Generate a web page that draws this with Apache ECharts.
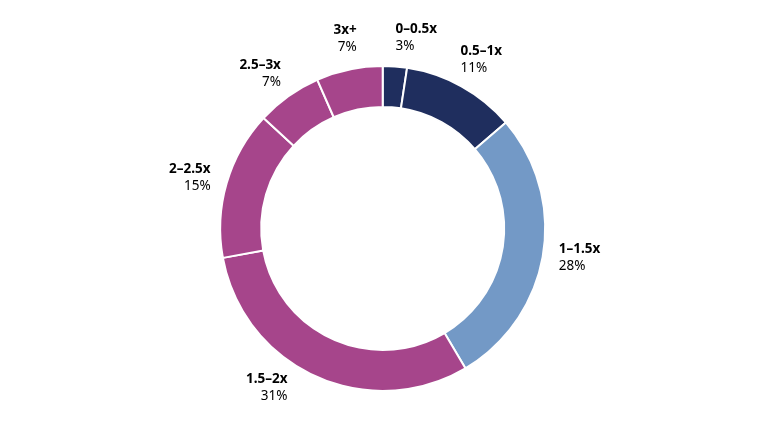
<!DOCTYPE html>
<html>
<head>
<meta charset="utf-8">
<script src="https://cdn.jsdelivr.net/npm/echarts@6/dist/echarts.min.js"></script>
<style>
html,body{margin:0;padding:0;background:#fff;}
#chart{width:781px;height:441px;}
</style>
</head>
<body>
<div id="chart"></div>
<script>
// Data
const categories = ['0–0.5x', '0.5–1x', '1–1.5x', '1.5–2x', '2–2.5x', '2.5–3x', '3x+'];
const values = [2.4, 11.3, 27.8, 30.6, 14.8, 6.5, 6.6];
const pctLabels = ['3%', '11%', '28%', '31%', '15%', '7%', '7%'];
const colors = ['#1f2e5e', '#1f2e5e', '#7399c6', '#a6458b', '#a6458b', '#a6458b', '#a6458b'];

// label placement tweaks (degrees) — layout, not data
const labelAngleShift = [5.7, 1.3, -0.9, 11.6, -1.4, -2.9, 0.7];

const chart = echarts.init(document.getElementById('chart'), null, {renderer: 'canvas'});
const total = values.reduce((a, b) => a + b, 0);
const midAngles = [];
let cum = 0;
values.forEach((v, i) => { midAngles.push((cum + v / 2) / total * 360 + labelAngleShift[i]); cum += v; });

const CX = 0.49, CY = 0.518, OUTER = 162.5, INNER = 121.5, LABEL_R = 178;
const font = '"Noto Sans", "Open Sans", sans-serif';
const FS = 13.5, LH = 16.5;

function sideRight(i) { return Math.sin(midAngles[i] * Math.PI / 180) >= 0; }

const option = {
  backgroundColor: '#ffffff',
  animation: false,
  series: [{
    type: 'pie',
    center: [(CX * 100) + '%', (CY * 100) + '%'],
    radius: [INNER, OUTER],
    startAngle: 90,
    clockwise: true,
    avoidLabelOverlap: false,
    itemStyle: { borderColor: '#ffffff', borderWidth: 2 },
    label: {
      show: true,
      position: 'outside',
      fontFamily: font,
      formatter: function (p) {
        const s = sideRight(p.dataIndex) ? 'L' : 'R';
        return '{n' + s + '|' + categories[p.dataIndex] + '}\n{v' + s + '|' + pctLabels[p.dataIndex] + '}';
      },
      rich: {
        nL: { fontFamily: font, fontSize: FS, fontWeight: 'bold', color: '#000', lineHeight: LH, align: 'left' },
        vL: { fontFamily: font, fontSize: FS, color: '#000', lineHeight: LH, align: 'left' },
        nR: { fontFamily: font, fontSize: FS, fontWeight: 'bold', color: '#000', lineHeight: LH, align: 'right' },
        vR: { fontFamily: font, fontSize: FS, color: '#000', lineHeight: LH, align: 'right' }
      }
    },
    labelLine: { show: false },
    labelLayout: function (params) {
      const i = params.dataIndex;
      const th = midAngles[i] * Math.PI / 180;
      const dx = Math.sin(th), dy = -Math.cos(th);
      const w = params.labelRect.width, h = params.labelRect.height;
      const hw = w / 2, hh = h / 2;
      const a = Math.abs(dx) > 1e-6 ? hw / Math.abs(dx) : Infinity;
      const b = Math.abs(dy) > 1e-6 ? hh / Math.abs(dy) : Infinity;
      const t = LABEL_R + Math.min(a, b);
      const cx = chart.getWidth() * CX, cy = chart.getHeight() * CY;
      const mx = cx + t * dx, my = cy + t * dy;
      const right = dx >= 0;
      return {
        x: right ? mx - hw : mx + hw,
        y: my,
        align: right ? 'left' : 'right',
        verticalAlign: 'middle'
      };
    },
    emphasis: { disabled: true },
    data: categories.map((c, i) => ({ name: c, value: values[i], itemStyle: { color: colors[i] } }))
  }]
};
chart.setOption(option);
</script>
</body>
</html>
